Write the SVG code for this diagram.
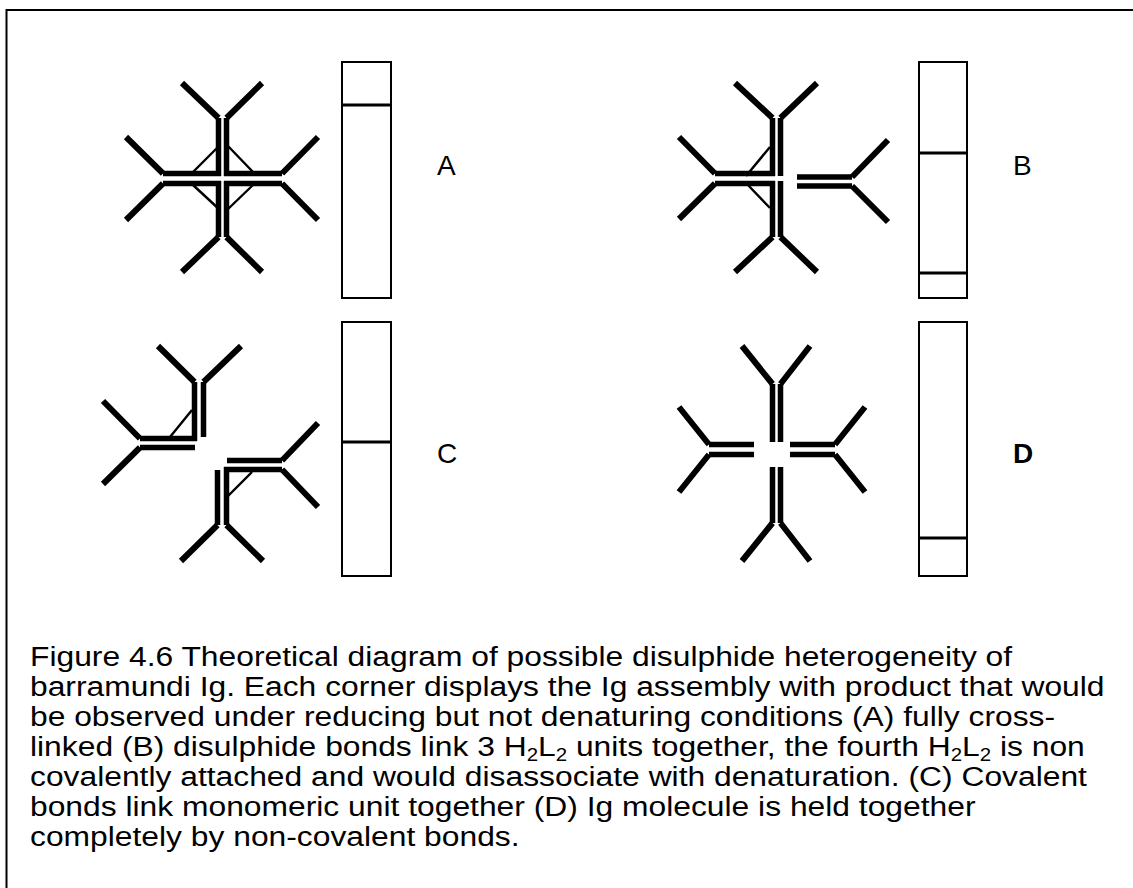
<svg xmlns="http://www.w3.org/2000/svg" width="1133" height="888" viewBox="0 0 1133 888">
  <style>
    .bar { stroke: #000; stroke-width: 5.5; fill: none; }
    .arm { stroke: #000; stroke-width: 6; fill: none; }
    .ss { stroke: #000; stroke-width: 2.4; fill: none; }
    .lane { fill: #fff; stroke: #000; stroke-width: 2; }
    .band { stroke: #000; stroke-width: 3; }
    .lbl { font-family: "Liberation Sans", Arial, sans-serif; font-size: 28px; fill: #000; }
    .cap { font-family: "Liberation Sans", Arial, sans-serif; font-size: 28px; fill: #000; }
  </style>
  <rect x="0" y="0" width="1133" height="888" fill="#fff"/>
  <!-- frame, open to the right and bottom -->
  <path d="M6.5 900 V10 H1140" fill="none" stroke="#000" stroke-width="2"/>

  <!-- A: fully cross-linked tetramer -->
  <g id="molA">
    <path class="bar" d="M218.5 118 V176 M226.5 118 V176 M218.5 181 V237 M226.5 181 V237 M163 173.5 H221 M163 183.5 H221 M224 173.5 H282 M224 183.5 H282"/>
    <path class="arm" d="M218.5 118 L182 83 M226.5 118 L262 83 M218.5 237 L182 272 M226.5 237 L262 272 M163 173.5 L126 137 M163 183.5 L126 220 M282 173.5 L318 137 M282 183.5 L318 220"/>
    <path class="ss" d="M193 172 L220 145 M227 145 L253 172 M193 185 L220 210 M227 210 L253 185"/>
  </g>
  <g id="laneA">
    <rect class="lane" x="342" y="62" width="49" height="236"/>
    <line class="band" x1="342" y1="105" x2="391" y2="105"/>
  </g>
  <text id="labelA" class="lbl" x="437" y="175">A</text>

  <!-- B: three units linked, fourth non-covalent -->
  <g id="molB">
    <path class="bar" d="M772.5 118 V176 M780.5 118 V176 M772.5 181 V237 M780.5 181 V237 M715 173.5 H775 M715 183.5 H775 M797 177 H852 M797 186 H852"/>
    <path class="arm" d="M772.5 118 L735 83 M780.5 118 L817 83 M772.5 237 L735 272 M780.5 237 L817 272 M715 173.5 L679 137 M715 183.5 L679 219 M852 177 L888 140 M852 186 L888 222"/>
    <path class="ss" d="M746 176 L770 147 M746 183 L770 208"/>
  </g>
  <g id="laneB">
    <rect class="lane" x="919" y="62" width="48" height="236"/>
    <line class="band" x1="919" y1="153" x2="967" y2="153"/>
    <line class="band" x1="919" y1="273" x2="967" y2="273"/>
  </g>
  <text id="labelB" class="lbl" x="1013" y="175">B</text>

  <!-- C: two covalently linked monomeric pairs -->
  <g id="molC">
    <path class="bar" d="M194.5 382 V441 M203.5 382 V437 M140 438.5 H197 M140 447.5 H195"/>
    <path class="arm" d="M194.5 382 L158 346 M203.5 382 L241 346 M140 438.5 L103 401 M140 447.5 L103 484"/>
    <path class="ss" d="M170 437 L192 410"/>
    <path class="bar" d="M227 460.5 H282 M224 469.5 H282 M217.5 470 V525 M226.5 467 V525"/>
    <path class="arm" d="M282 460.5 L318 423 M282 469.5 L318 507 M217.5 525 L181 561 M226.5 525 L263 561"/>
    <path class="ss" d="M227 497 L252 472"/>
  </g>
  <g id="laneC">
    <rect class="lane" x="342" y="322" width="49" height="254"/>
    <line class="band" x1="342" y1="442" x2="391" y2="442"/>
  </g>
  <text id="labelC" class="lbl" x="437" y="463">C</text>

  <!-- D: non-covalent assembly -->
  <g id="molD">
    <path class="bar" d="M772.5 384 V442 M780.5 384 V442 M772.5 467 V523 M780.5 467 V523 M709 444.5 H754 M709 454.5 H754 M790 444.5 H835 M790 454.5 H835"/>
    <path class="arm" d="M772.5 384 L742 346 M780.5 384 L810 346 M772.5 523 L742 561 M780.5 523 L810 561 M709 444.5 L679 407 M709 454.5 L679 492 M835 444.5 L865 407 M835 454.5 L865 492"/>
  </g>
  <g id="laneD">
    <rect class="lane" x="919" y="322" width="48" height="254"/>
    <line class="band" x1="919" y1="538" x2="967" y2="538"/>
  </g>
  <text id="labelD" class="lbl" x="1013" y="463" font-weight="bold">D</text>

  <!-- caption, set slightly wide -->
  <g id="caption" class="cap" transform="matrix(1.136 0 0 1 -4.08 0)">
    <text x="30" y="666">Figure 4.6 Theoretical diagram of possible disulphide heterogeneity of</text>
    <text x="30" y="696">barramundi Ig. Each corner displays the Ig assembly with product that would</text>
    <text x="30" y="726">be observed under reducing but not denaturing conditions (A) fully cross-</text>
    <text x="30" y="756">linked (B) disulphide bonds link 3 H<tspan font-size="18" baseline-shift="-5">2</tspan>L<tspan font-size="18" baseline-shift="-5">2</tspan> units together, the fourth H<tspan font-size="18" baseline-shift="-5">2</tspan>L<tspan font-size="18" baseline-shift="-5">2</tspan> is non</text>
    <text x="30" y="786">covalently attached and would disassociate with denaturation. (C) Covalent</text>
    <text x="30" y="816">bonds link monomeric unit together (D) Ig molecule is held together</text>
    <text x="30" y="846">completely by non-covalent bonds.</text>
  </g>
</svg>
